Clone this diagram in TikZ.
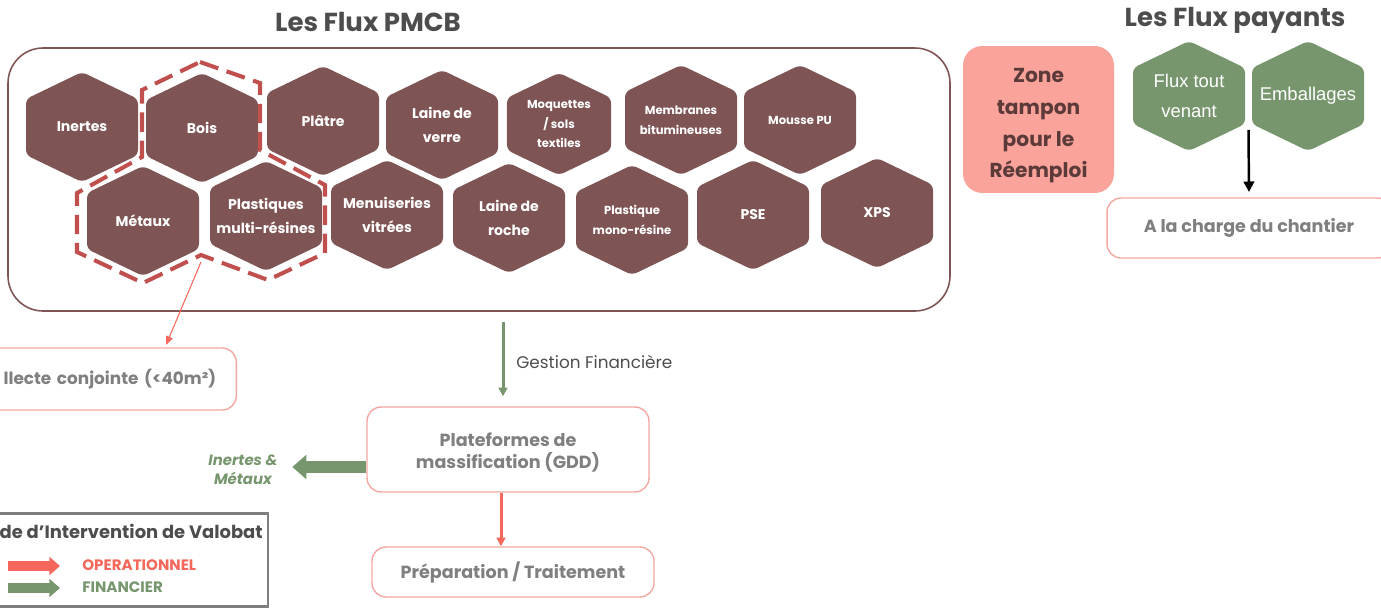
\documentclass[tikz,border=0pt]{standalone}
\usepackage{fontspec}
\setmainfont{Poppins}
\newfontfamily\arialfont{Liberation Sans}
\usetikzlibrary{arrows.meta,calc}
\definecolor{hexbrown}{HTML}{7F5454}
\definecolor{dashred}{HTML}{C0504D}
\definecolor{boxpink}{HTML}{F4A7A0}
\definecolor{oprred}{HTML}{F4675A}
\definecolor{fingreen}{HTML}{77966D}
\definecolor{zonefill}{HTML}{F9A39A}
\definecolor{zonetext}{HTML}{5C3A3A}
\definecolor{boxgray}{HTML}{7F7F7F}
\definecolor{titlegray}{HTML}{4D4D4D}
\newcommand{\hexcell}[6][1]{%
  \fill[#6fill] (#3,#4) ++(0,-55*#1) -- ++(56*#1,27*#1) -- ++(0,56*#1)
    -- ++(-56*#1,27*#1) -- ++(-56*#1,-27*#1) -- ++(0,-56*#1) -- cycle;
  \node[#6text] (#2) at (#3,#4) {#5};}
\tikzset{
  brownfill/.style={fill=hexbrown, rounded corners=3pt},
  browntext/.style={text=white, font=\bfseries\fontsize{8}{13.5}\selectfont, align=center},
  smallfill/.style={brownfill},
  smalltext/.style={browntext, font=\bfseries\fontsize{6.6}{11.2}\selectfont},
  greenfill/.style={fill=fingreen, rounded corners=3pt},
  greentext/.style={text=white, font=\arialfont\fontsize{10.5}{17}\selectfont, align=center},
  flowbox/.style={draw=boxpink, line width=0.8pt, rounded corners=8pt, text=boxgray,
    font=\bfseries\fontsize{10}{13}\selectfont, align=center},
  title/.style={text=titlegray, font=\bfseries\fontsize{14.8}{16}\selectfont},
  finline/.style={draw=fingreen, line width=1.7pt, -{Triangle[length=5pt,width=5pt]}},
  opline/.style={draw=oprred, line width=1.7pt, -{Triangle[length=5pt,width=5pt]}},
  thinop/.style={draw=oprred, line width=0.6pt, -{Triangle[length=5pt,width=4pt]}},
  finbig/.style={draw=fingreen, line width=6.5pt, -{Triangle[length=8pt,width=13.5pt]}},
  legop/.style={draw=oprred, line width=5.5pt, -{Triangle[length=6pt,width=10pt]}},
  legfin/.style={draw=fingreen, line width=5.5pt, -{Triangle[length=6pt,width=10pt]}}
}
\begin{document}
\begin{tikzpicture}[x=0.02cm, y=-0.02cm]
  \useasboundingbox (0,0) rectangle (1381,608);
  \node[title] (pmcb) at (368,22) {Les Flux PMCB};
  \node[title] (payants) at (1235,20) {Les Flux payants};
  \draw[draw=hexbrown, line width=0.9pt, rounded corners=20pt] (8,48) rectangle (950,311);
  \hexcell{inert}{82}{127}{Inertes}{brown}
  \hexcell{bois}{202}{128}{Bois}{brown}
  \hexcell{platre}{323}{121}{Plâtre}{brown}
  \hexcell{lverre}{442}{125}{Laine de\\verre}{brown}
  \hexcell[0.93]{moq}{559}{124}{Moquettes\\/ sols\\textiles}{small}
  \hexcell{memb}{681}{120}{Membranes\\bitumineuses}{small}
  \hexcell{mousse}{800}{120}{Mousse PU}{small}
  \hexcell{metaux}{143}{221}{Métaux}{brown}
  \hexcell{plmulti}{266}{216}{Plastiques\\multi-résines}{brown}
  \hexcell{menui}{387}{215}{Menuiseries\\vitrées}{brown}
  \hexcell{lroche}{509}{218}{Laine de\\roche}{brown}
  \hexcell{plmono}{632}{220}{Plastique\\mono-résine}{small}
  \hexcell{pse}{753}{215}{PSE}{brown}
  \hexcell{xps}{877}{213}{XPS}{brown}
  \draw[dashred, line width=2.3pt, dash pattern=on 11pt off 5pt]
    (200,62) -- (260,83) -- (260,150) -- (325,185) -- (325,253) -- (268,280) -- (201,255)
    -- (143,283) -- (77,252) -- (77,193) -- (142,157) -- (142,90) -- cycle;
  \node[fill=zonefill, rounded corners=11pt, minimum width=3.02cm, minimum height=2.94cm]
    (zone) at (1038.5,119.5) {};
  \node[text=zonetext, font=\bfseries\fontsize{11.5}{18}\selectfont, align=center]
    (zonelbl) at ([yshift=-0.13cm]zone.center) {Zone\\tampon\\pour le\\Réemploi};
  \hexcell{fluxtv}{1189}{96}{Flux tout\\venant}{green}
  \hexcell{emb}{1308}{96}{Emballages}{green}
  \node[flowbox, minimum width=5.68cm, minimum height=1.2cm] (charge) at (1249,228) {A la charge du chantier};
  \draw[black, line width=1.4pt, -{Triangle[length=6pt,width=6pt]}, shorten >=3pt]
    ([yshift=-0.68cm]$(fluxtv)!0.5!(emb)$) -- (charge.north);
  \node[flowbox, anchor=east, minimum height=1.24cm, inner xsep=0.4cm, text width=5.14cm, align=right,
    font=\bfseries\fontsize{9.6}{13}\selectfont]
    (coll) at (237,379) {llecte conjointe (<40m²)};
  \coordinate (grp) at (201,262);
  \coordinate (collin) at (166,345);
  \draw[thinop] (grp) -- (collin);
  \node[flowbox, minimum width=5.64cm, minimum height=1.7cm] (plat) at (508,449.5) {};
  \node[text=boxgray, font=\bfseries\fontsize{10}{13}\selectfont, align=center]
    (platlbl) at ([yshift=-0.06cm]plat.center) {Plateformes de\\massification (GDD)};
  \node[flowbox, minimum width=5.64cm, minimum height=1.0cm] (prep) at (513,572) {Préparation / Traitement};
  \coordinate (gf) at (503,322);
  \draw[finline] (gf) -- ([yshift=0.2cm]gf |- plat.north);
  \node[anchor=west, inner sep=0pt, text=titlegray, font=\fontsize{9.6}{11}\selectfont] (gflbl) at (516,362) {Gestion Financière};
  \draw[opline] ([xshift=-0.14cm]plat.south) -- ([xshift=-0.14cm]plat.south |- prep.north);
  \node[text=fingreen, font=\bfseries\itshape\fontsize{8.5}{10.8}\selectfont, align=center] (inme) at (243,470) {Inertes \&\\Métaux};
  \draw[finbig] ([yshift=-0.35cm]plat.west) -- ++(-74,0);
  \draw[draw=boxgray, line width=1.7pt] (-20,513) rectangle (268,606);
  \node[anchor=east, inner sep=0pt, text=titlegray, font=\bfseries\fontsize{10.2}{12}\selectfont] (legtitle) at (263,531) {de d’Intervention de Valobat};
  \node[anchor=west, inner sep=0pt, text=oprred, font=\bfseries\fontsize{8.6}{10}\selectfont] (oplbl) at (82,565) {OPERATIONNEL};
  \node[anchor=west, inner sep=0pt, text=fingreen, font=\bfseries\fontsize{8.6}{10}\selectfont] (finlbl) at (82,587) {FINANCIER};
  \coordinate (opst) at (8,566);
  \coordinate (finst) at (8,588);
  \draw[legop] (opst) -- ++(52,0);
  \draw[legfin] (finst) -- ++(52,0);
\end{tikzpicture}
\end{document}
